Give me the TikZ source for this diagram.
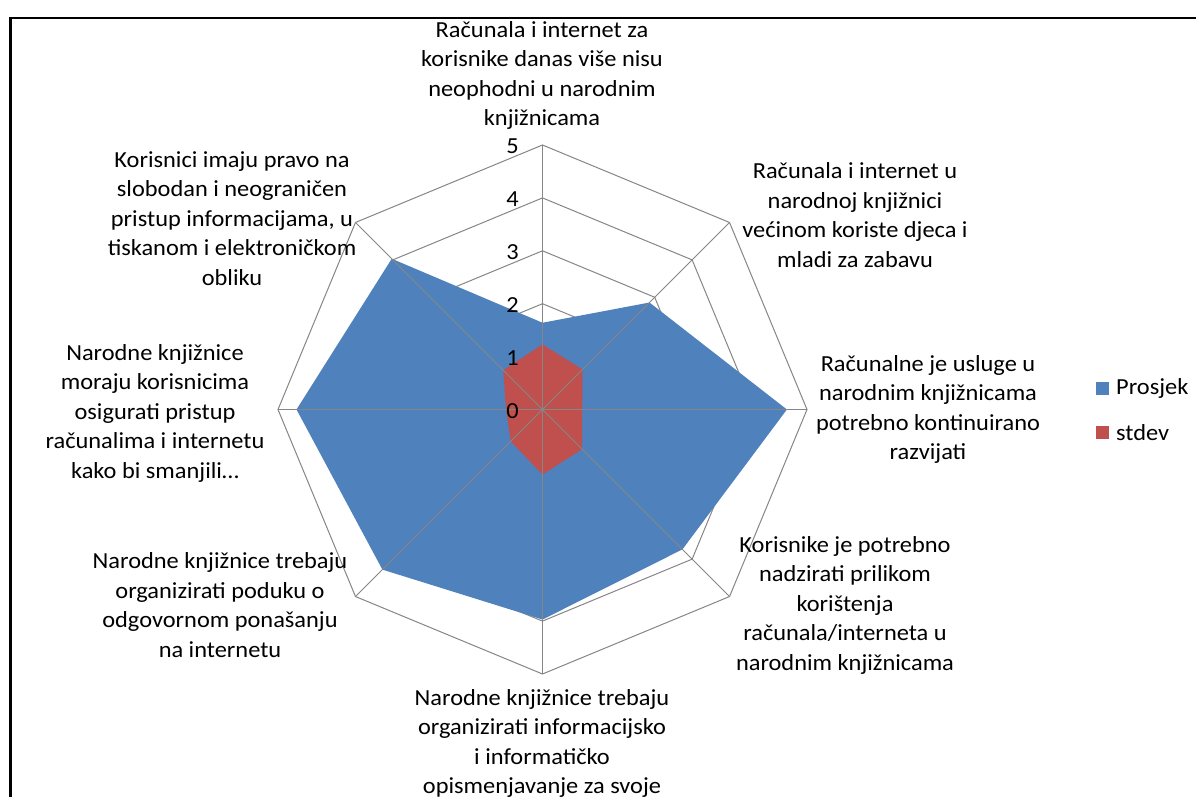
\documentclass[tikz,border=0pt]{standalone}
\usepackage{fontspec}
\usetikzlibrary{calc}
\setmainfont{Carlito}[FakeStretch=1.06]
\definecolor{serblue}{HTML}{4F81BD}
\definecolor{serred}{HTML}{C0504D}
\definecolor{gridgray}{HTML}{868686}
\begin{document}
\begin{tikzpicture}[x=1pt,y=-1pt,
  cat/.style={align=center,font=\fontsize{23}{29.5}\selectfont,inner sep=0pt},
  tick/.style={anchor=east,font=\fontsize{23}{28}\selectfont,inner sep=0pt},
  gridln/.style={draw=gridgray,line width=1pt}]
\useasboundingbox (0,0) rectangle (1196,797);
\fill[white] (0,0) rectangle (1196,797);
\def\U{52.9}
\coordinate (C) at (542.5,409.5);
% octagon grid
\foreach \l in {1,...,5}{
  \draw[gridln] ($(C)+(-90:\l*\U)$) -- ($(C)+(-45:\l*\U)$) -- ($(C)+(0:\l*\U)$) -- ($(C)+(45:\l*\U)$)
   -- ($(C)+(90:\l*\U)$) -- ($(C)+(135:\l*\U)$) -- ($(C)+(180:\l*\U)$) -- ($(C)+(225:\l*\U)$) -- cycle;
}
% Prosjek
\fill[serblue] ($(C)+(-90:1.64*\U)$) -- ($(C)+(-45:2.86*\U)$) -- ($(C)+(0:4.62*\U)$) -- ($(C)+(45:3.74*\U)$)
  -- ($(C)+(90:3.97*\U)$) -- ($(C)+(135:4.28*\U)$) -- ($(C)+(180:4.65*\U)$) -- ($(C)+(225:4.03*\U)$) -- cycle;
% stdev
\fill[serred] ($(C)+(-90:1.23*\U)$) -- ($(C)+(-45:1.07*\U)$) -- ($(C)+(0:0.75*\U)$) -- ($(C)+(45:1.06*\U)$)
  -- ($(C)+(90:1.23*\U)$) -- ($(C)+(135:0.85*\U)$) -- ($(C)+(180:0.69*\U)$) -- ($(C)+(225:1.05*\U)$) -- cycle;
% spokes
\foreach \a in {-90,-45,0,45,90,135,180,225}{
  \draw[gridln] (C) -- ($(C)+(\a:5*\U)$);
}
% tick labels
\foreach \l in {0,...,5}{
  \node[tick] (t\l) at ($(C)+(-23.5,1.5-\l*\U)$) {\l};
}
% category labels
\node[cat] (c1) at (542,75.5) {Računala i internet za\\korisnike danas više nisu\\neophodni u narodnim\\knjižnicama};
\node[cat] (c2) at (855,215) {Računala i internet u\\narodnoj knjižnici\\većinom koriste djeca i\\mladi za zabavu};
\node[cat] (c3) at (928,409.5) {Računalne je usluge u\\narodnim knjižnicama\\potrebno kontinuirano\\razvijati};
\node[cat] (c4) at (845,605) {Korisnike je potrebno\\nadzirati prilikom\\korištenja\\računala/interneta u\\narodnim knjižnicama};
\node[cat] (c5) at (542,743.5) {Narodne knjižnice trebaju\\organizirati informacijsko\\i informatičko\\opismenjavanje za svoje};
\node[cat] (c6) at (220,605) {Narodne knjižnice trebaju\\organizirati poduku o\\odgovornom ponašanju\\na internetu};
\node[cat] (c7) at (155,413) {Narodne knjižnice\\moraju korisnicima\\osigurati pristup\\računalima i internetu\\kako bi smanjili…};
\node[cat] (c8) at (232,218.5) {Korisnici imaju pravo na\\slobodan i neograničen\\pristup informacijama, u\\tiskanom i elektroničkom\\obliku};
% legend
\fill[serblue] (1096,382) rectangle (1109,395);
\node[anchor=west,font=\fontsize{23}{28}\selectfont,inner sep=0pt] (lp) at (1116,388.5) {Prosjek};
\fill[serred] (1096,426) rectangle (1109,439);
\node[anchor=west,font=\fontsize{23}{28}\selectfont,inner sep=0pt] (ls) at (1116,432.5) {stdev};
% frame
\draw[black,line width=2.3pt] (10.5,797) -- (10.5,18) -- (1196,18);
\end{tikzpicture}
\end{document}
